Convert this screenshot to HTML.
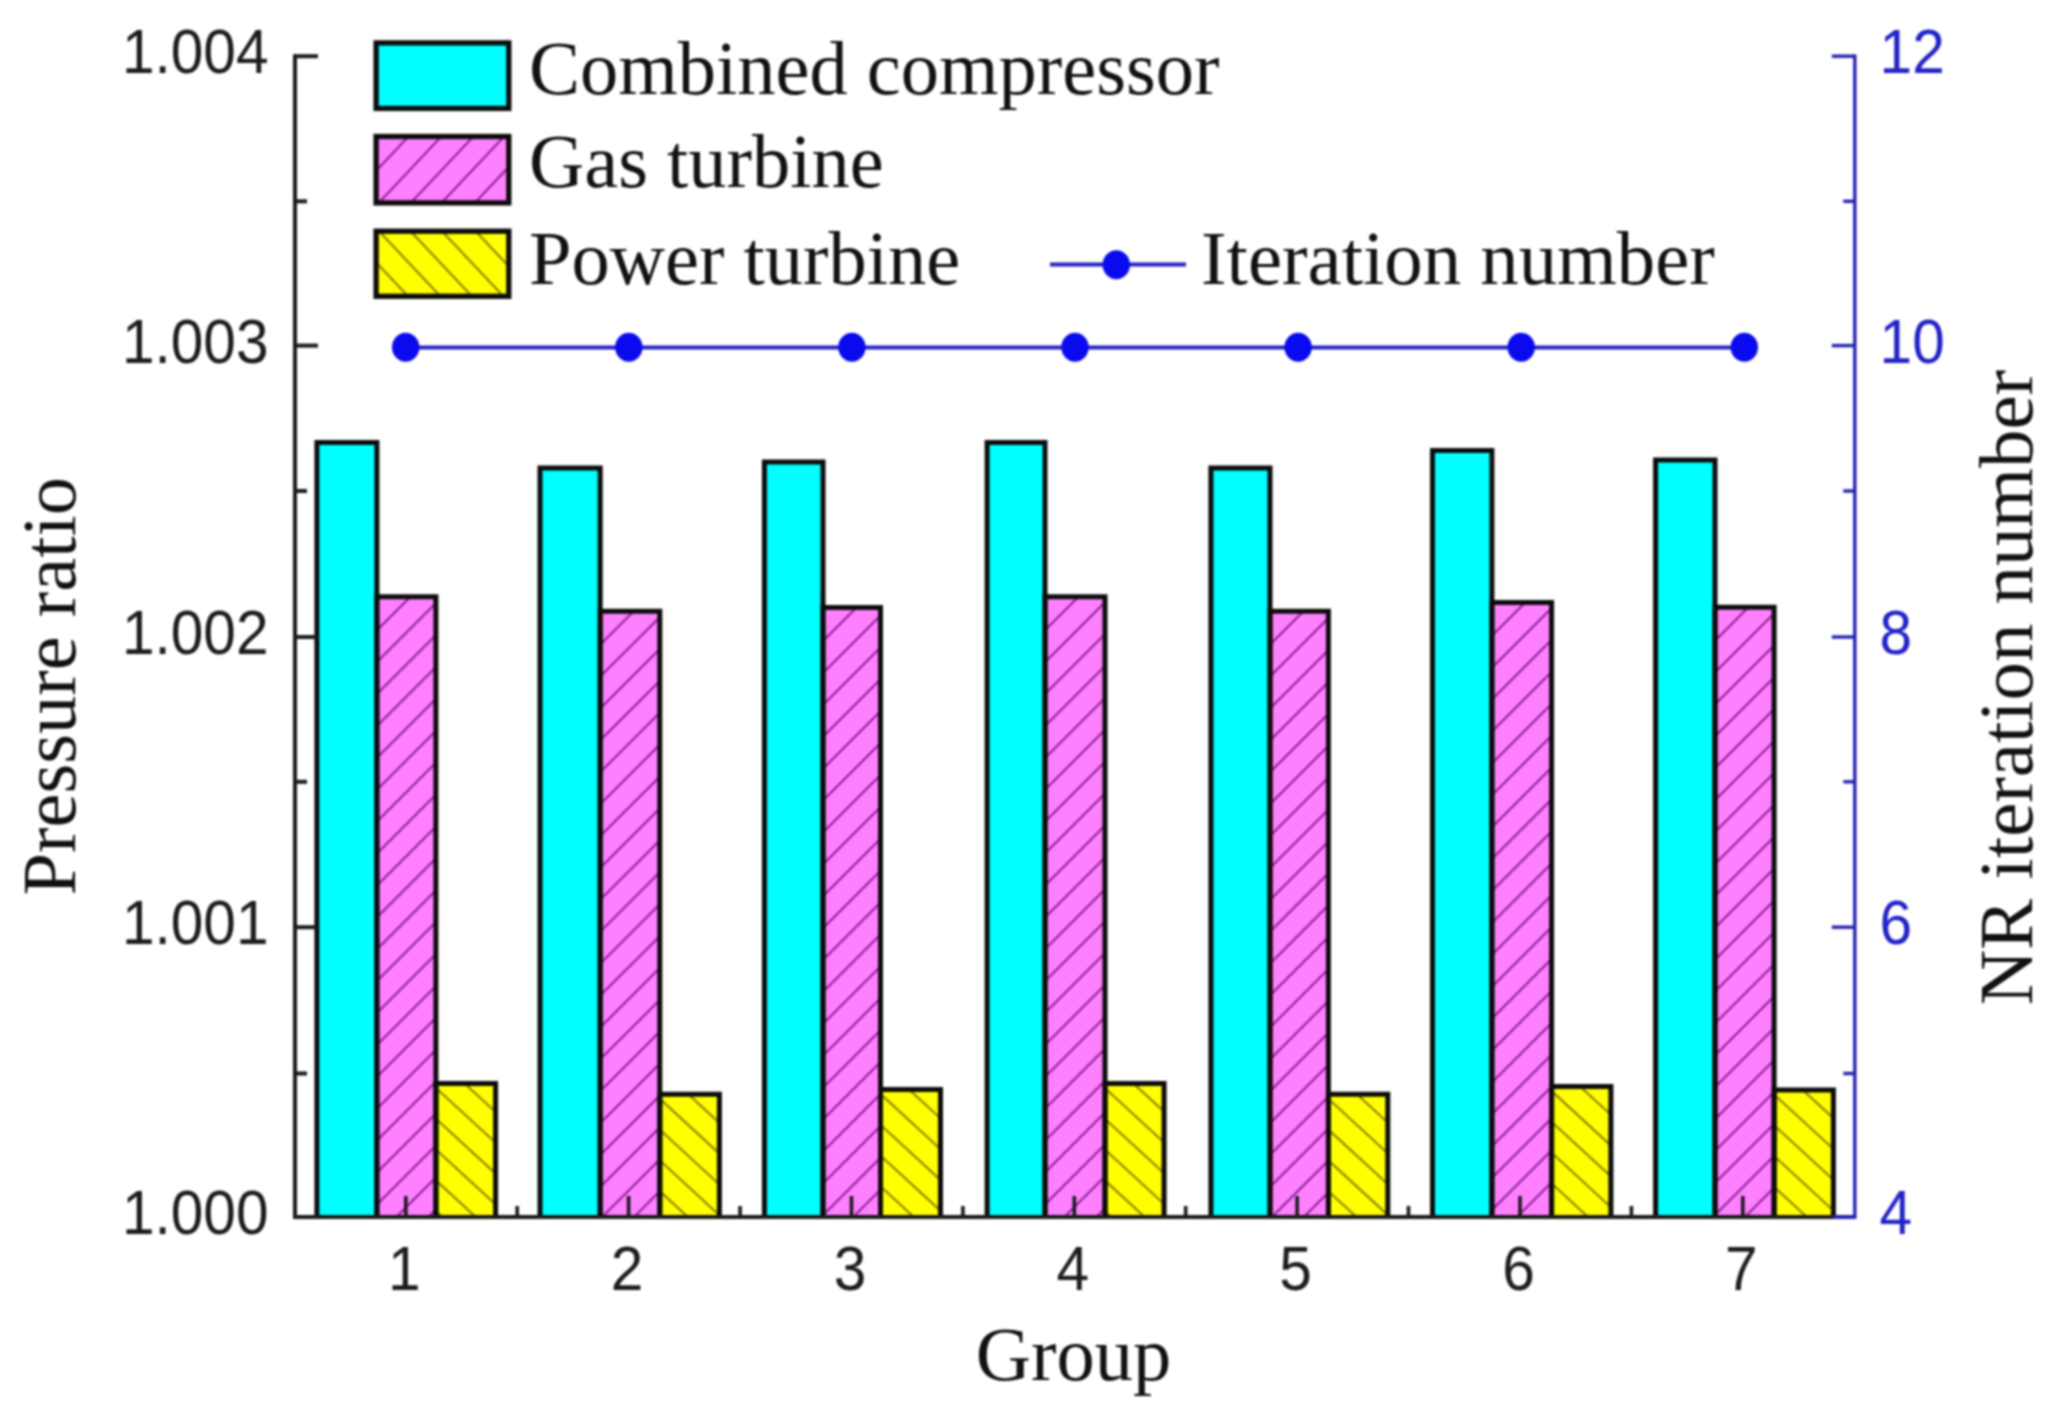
<!DOCTYPE html>
<html lang="en"><head><meta charset="utf-8"><title>Pressure ratio and NR iteration number by group</title>
<style>html,body{margin:0;padding:0;background:#fff}body{width:2060px;height:1410px;overflow:hidden}svg{display:block;filter:blur(0.9px)}
.ser{font-family:"Liberation Serif","Times New Roman",serif;fill:#111}
.san{font-family:"Liberation Sans",Arial,sans-serif;fill:#1c1c1c}
.blu{fill:#2222c8}
</style></head><body>
<svg width="2060" height="1410" viewBox="0 0 2060 1410">
<defs><clipPath id="c1"><rect x="376.9" y="596.8" width="59.0" height="620.2"/></clipPath><clipPath id="c2"><rect x="435.9" y="1083.4" width="59.7" height="133.6"/></clipPath><clipPath id="c3"><rect x="600.2" y="611.2" width="59.5" height="605.8"/></clipPath><clipPath id="c4"><rect x="659.8" y="1094.3" width="59.6" height="122.7"/></clipPath><clipPath id="c5"><rect x="823.0" y="607.6" width="57.5" height="609.4"/></clipPath><clipPath id="c6"><rect x="880.5" y="1089.5" width="60.0" height="127.5"/></clipPath><clipPath id="c7"><rect x="1045.0" y="596.8" width="60.0" height="620.2"/></clipPath><clipPath id="c8"><rect x="1105.0" y="1083.6" width="59.1" height="133.4"/></clipPath><clipPath id="c9"><rect x="1270.0" y="611.2" width="58.4" height="605.8"/></clipPath><clipPath id="c10"><rect x="1328.4" y="1094.3" width="59.3" height="122.7"/></clipPath><clipPath id="c11"><rect x="1491.9" y="602.4" width="59.7" height="614.6"/></clipPath><clipPath id="c12"><rect x="1551.6" y="1086.6" width="59.3" height="130.4"/></clipPath><clipPath id="c13"><rect x="1715.0" y="607.2" width="59.1" height="609.8"/></clipPath><clipPath id="c14"><rect x="1774.1" y="1090.0" width="59.3" height="127.0"/></clipPath><clipPath id="c15"><rect x="376.1" y="136.5" width="132.7" height="66.4"/></clipPath><clipPath id="c16"><rect x="376.1" y="231.2" width="132.7" height="65.1"/></clipPath></defs>
<rect width="2060" height="1410" fill="#fff"/>
<rect x="316.9" y="442.4" width="60.0" height="774.6" fill="#00ffff"/>
<rect x="376.9" y="596.8" width="59.0" height="620.2" fill="#ff80ff"/>
<path clip-path="url(#c1)" d="M372.9 506.7 L439.9 439.7 M372.9 538.6 L439.9 471.6 M372.9 570.5 L439.9 503.5 M372.9 602.4 L439.9 535.4 M372.9 634.3 L439.9 567.3 M372.9 666.2 L439.9 599.2 M372.9 698.1 L439.9 631.1 M372.9 730.0 L439.9 663.0 M372.9 761.9 L439.9 694.9 M372.9 793.8 L439.9 726.8 M372.9 825.7 L439.9 758.7 M372.9 857.6 L439.9 790.6 M372.9 889.5 L439.9 822.5 M372.9 921.4 L439.9 854.4 M372.9 953.3 L439.9 886.3 M372.9 985.2 L439.9 918.2 M372.9 1017.1 L439.9 950.1 M372.9 1049.0 L439.9 982.0 M372.9 1080.9 L439.9 1013.9 M372.9 1112.8 L439.9 1045.8 M372.9 1144.7 L439.9 1077.7 M372.9 1176.6 L439.9 1109.6 M372.9 1208.5 L439.9 1141.5 M372.9 1240.4 L439.9 1173.4 M372.9 1272.3 L439.9 1205.3" stroke="#8c2496" stroke-width="2.1" fill="none"/>
<rect x="435.9" y="1083.4" width="59.7" height="133.6" fill="#ffff00"/>
<path clip-path="url(#c2)" d="M431.9 961.0 L499.6 1023.3 M431.9 991.8 L499.6 1054.1 M431.9 1022.6 L499.6 1084.9 M431.9 1053.4 L499.6 1115.7 M431.9 1084.2 L499.6 1146.5 M431.9 1115.0 L499.6 1177.3 M431.9 1145.8 L499.6 1208.1 M431.9 1176.6 L499.6 1238.9 M431.9 1207.4 L499.6 1269.7" stroke="#8f8200" stroke-width="2.1" fill="none"/>
<path d="M316.9 1217.0 V442.4 H376.9 V1217.0" fill="none" stroke="#0c0c0c" stroke-width="5"/>
<path d="M376.9 1217.0 V596.8 H435.9 V1217.0" fill="none" stroke="#0c0c0c" stroke-width="5"/>
<path d="M435.9 1217.0 V1083.4 H495.6 V1217.0" fill="none" stroke="#0c0c0c" stroke-width="5"/>
<rect x="540.0" y="468.0" width="60.2" height="749.0" fill="#00ffff"/>
<rect x="600.2" y="611.2" width="59.5" height="605.8" fill="#ff80ff"/>
<path clip-path="url(#c3)" d="M596.2 521.1 L663.8 453.6 M596.2 553.0 L663.8 485.5 M596.2 584.9 L663.8 517.4 M596.2 616.8 L663.8 549.3 M596.2 648.7 L663.8 581.2 M596.2 680.6 L663.8 613.1 M596.2 712.5 L663.8 645.0 M596.2 744.4 L663.8 676.9 M596.2 776.3 L663.8 708.8 M596.2 808.2 L663.8 740.7 M596.2 840.1 L663.8 772.6 M596.2 872.0 L663.8 804.5 M596.2 903.9 L663.8 836.4 M596.2 935.8 L663.8 868.3 M596.2 967.7 L663.8 900.2 M596.2 999.6 L663.8 932.1 M596.2 1031.5 L663.8 964.0 M596.2 1063.4 L663.8 995.9 M596.2 1095.3 L663.8 1027.8 M596.2 1127.2 L663.8 1059.7 M596.2 1159.1 L663.8 1091.6 M596.2 1191.0 L663.8 1123.5 M596.2 1222.9 L663.8 1155.4 M596.2 1254.8 L663.8 1187.3 M596.2 1286.7 L663.8 1219.2" stroke="#8c2496" stroke-width="2.1" fill="none"/>
<rect x="659.8" y="1094.3" width="59.6" height="122.7" fill="#ffff00"/>
<path clip-path="url(#c4)" d="M655.8 971.9 L723.4 1034.2 M655.8 1002.7 L723.4 1065.0 M655.8 1033.5 L723.4 1095.8 M655.8 1064.3 L723.4 1126.6 M655.8 1095.1 L723.4 1157.4 M655.8 1125.9 L723.4 1188.2 M655.8 1156.7 L723.4 1219.0 M655.8 1187.5 L723.4 1249.8 M655.8 1218.3 L723.4 1280.6" stroke="#8f8200" stroke-width="2.1" fill="none"/>
<path d="M540.0 1217.0 V468.0 H600.2 V1217.0" fill="none" stroke="#0c0c0c" stroke-width="5"/>
<path d="M600.2 1217.0 V611.2 H659.8 V1217.0" fill="none" stroke="#0c0c0c" stroke-width="5"/>
<path d="M659.8 1217.0 V1094.3 H719.4 V1217.0" fill="none" stroke="#0c0c0c" stroke-width="5"/>
<rect x="764.4" y="462.0" width="58.6" height="755.0" fill="#00ffff"/>
<rect x="823.0" y="607.6" width="57.5" height="609.4" fill="#ff80ff"/>
<path clip-path="url(#c5)" d="M819.0 517.5 L884.5 452.0 M819.0 549.4 L884.5 483.9 M819.0 581.3 L884.5 515.8 M819.0 613.2 L884.5 547.7 M819.0 645.1 L884.5 579.6 M819.0 677.0 L884.5 611.5 M819.0 708.9 L884.5 643.4 M819.0 740.8 L884.5 675.3 M819.0 772.7 L884.5 707.2 M819.0 804.6 L884.5 739.1 M819.0 836.5 L884.5 771.0 M819.0 868.4 L884.5 802.9 M819.0 900.3 L884.5 834.8 M819.0 932.2 L884.5 866.7 M819.0 964.1 L884.5 898.6 M819.0 996.0 L884.5 930.5 M819.0 1027.9 L884.5 962.4 M819.0 1059.8 L884.5 994.3 M819.0 1091.7 L884.5 1026.2 M819.0 1123.6 L884.5 1058.1 M819.0 1155.5 L884.5 1090.0 M819.0 1187.4 L884.5 1121.9 M819.0 1219.3 L884.5 1153.8 M819.0 1251.2 L884.5 1185.7 M819.0 1283.1 L884.5 1217.6" stroke="#8c2496" stroke-width="2.1" fill="none"/>
<rect x="880.5" y="1089.5" width="60.0" height="127.5" fill="#ffff00"/>
<path clip-path="url(#c6)" d="M876.5 967.1 L944.5 1029.7 M876.5 997.9 L944.5 1060.5 M876.5 1028.7 L944.5 1091.3 M876.5 1059.5 L944.5 1122.1 M876.5 1090.3 L944.5 1152.9 M876.5 1121.1 L944.5 1183.7 M876.5 1151.9 L944.5 1214.5 M876.5 1182.7 L944.5 1245.3 M876.5 1213.5 L944.5 1276.1" stroke="#8f8200" stroke-width="2.1" fill="none"/>
<path d="M764.4 1217.0 V462.0 H823.0 V1217.0" fill="none" stroke="#0c0c0c" stroke-width="5"/>
<path d="M823.0 1217.0 V607.6 H880.5 V1217.0" fill="none" stroke="#0c0c0c" stroke-width="5"/>
<path d="M880.5 1217.0 V1089.5 H940.5 V1217.0" fill="none" stroke="#0c0c0c" stroke-width="5"/>
<rect x="987.1" y="442.4" width="57.9" height="774.6" fill="#00ffff"/>
<rect x="1045.0" y="596.8" width="60.0" height="620.2" fill="#ff80ff"/>
<path clip-path="url(#c7)" d="M1041.0 506.7 L1109.0 438.7 M1041.0 538.6 L1109.0 470.6 M1041.0 570.5 L1109.0 502.5 M1041.0 602.4 L1109.0 534.4 M1041.0 634.3 L1109.0 566.3 M1041.0 666.2 L1109.0 598.2 M1041.0 698.1 L1109.0 630.1 M1041.0 730.0 L1109.0 662.0 M1041.0 761.9 L1109.0 693.9 M1041.0 793.8 L1109.0 725.8 M1041.0 825.7 L1109.0 757.7 M1041.0 857.6 L1109.0 789.6 M1041.0 889.5 L1109.0 821.5 M1041.0 921.4 L1109.0 853.4 M1041.0 953.3 L1109.0 885.3 M1041.0 985.2 L1109.0 917.2 M1041.0 1017.1 L1109.0 949.1 M1041.0 1049.0 L1109.0 981.0 M1041.0 1080.9 L1109.0 1012.9 M1041.0 1112.8 L1109.0 1044.8 M1041.0 1144.7 L1109.0 1076.7 M1041.0 1176.6 L1109.0 1108.6 M1041.0 1208.5 L1109.0 1140.5 M1041.0 1240.4 L1109.0 1172.4 M1041.0 1272.3 L1109.0 1204.3" stroke="#8c2496" stroke-width="2.1" fill="none"/>
<rect x="1105.0" y="1083.6" width="59.1" height="133.4" fill="#ffff00"/>
<path clip-path="url(#c8)" d="M1101.0 961.2 L1168.1 1023.0 M1101.0 992.0 L1168.1 1053.8 M1101.0 1022.8 L1168.1 1084.6 M1101.0 1053.6 L1168.1 1115.4 M1101.0 1084.4 L1168.1 1146.2 M1101.0 1115.2 L1168.1 1177.0 M1101.0 1146.0 L1168.1 1207.8 M1101.0 1176.8 L1168.1 1238.6 M1101.0 1207.6 L1168.1 1269.4" stroke="#8f8200" stroke-width="2.1" fill="none"/>
<path d="M987.1 1217.0 V442.4 H1045.0 V1217.0" fill="none" stroke="#0c0c0c" stroke-width="5"/>
<path d="M1045.0 1217.0 V596.8 H1105.0 V1217.0" fill="none" stroke="#0c0c0c" stroke-width="5"/>
<path d="M1105.0 1217.0 V1083.6 H1164.1 V1217.0" fill="none" stroke="#0c0c0c" stroke-width="5"/>
<rect x="1210.9" y="468.0" width="59.1" height="749.0" fill="#00ffff"/>
<rect x="1270.0" y="611.2" width="58.4" height="605.8" fill="#ff80ff"/>
<path clip-path="url(#c9)" d="M1266.0 521.1 L1332.4 454.7 M1266.0 553.0 L1332.4 486.6 M1266.0 584.9 L1332.4 518.5 M1266.0 616.8 L1332.4 550.4 M1266.0 648.7 L1332.4 582.3 M1266.0 680.6 L1332.4 614.2 M1266.0 712.5 L1332.4 646.1 M1266.0 744.4 L1332.4 678.0 M1266.0 776.3 L1332.4 709.9 M1266.0 808.2 L1332.4 741.8 M1266.0 840.1 L1332.4 773.7 M1266.0 872.0 L1332.4 805.6 M1266.0 903.9 L1332.4 837.5 M1266.0 935.8 L1332.4 869.4 M1266.0 967.7 L1332.4 901.3 M1266.0 999.6 L1332.4 933.2 M1266.0 1031.5 L1332.4 965.1 M1266.0 1063.4 L1332.4 997.0 M1266.0 1095.3 L1332.4 1028.9 M1266.0 1127.2 L1332.4 1060.8 M1266.0 1159.1 L1332.4 1092.7 M1266.0 1191.0 L1332.4 1124.6 M1266.0 1222.9 L1332.4 1156.5 M1266.0 1254.8 L1332.4 1188.4 M1266.0 1286.7 L1332.4 1220.3" stroke="#8c2496" stroke-width="2.1" fill="none"/>
<rect x="1328.4" y="1094.3" width="59.3" height="122.7" fill="#ffff00"/>
<path clip-path="url(#c10)" d="M1324.4 971.9 L1391.8 1033.9 M1324.4 1002.7 L1391.8 1064.7 M1324.4 1033.5 L1391.8 1095.5 M1324.4 1064.3 L1391.8 1126.3 M1324.4 1095.1 L1391.8 1157.1 M1324.4 1125.9 L1391.8 1187.9 M1324.4 1156.7 L1391.8 1218.7 M1324.4 1187.5 L1391.8 1249.5 M1324.4 1218.3 L1391.8 1280.3" stroke="#8f8200" stroke-width="2.1" fill="none"/>
<path d="M1210.9 1217.0 V468.0 H1270.0 V1217.0" fill="none" stroke="#0c0c0c" stroke-width="5"/>
<path d="M1270.0 1217.0 V611.2 H1328.4 V1217.0" fill="none" stroke="#0c0c0c" stroke-width="5"/>
<path d="M1328.4 1217.0 V1094.3 H1387.8 V1217.0" fill="none" stroke="#0c0c0c" stroke-width="5"/>
<rect x="1432.5" y="450.4" width="59.4" height="766.6" fill="#00ffff"/>
<rect x="1491.9" y="602.4" width="59.7" height="614.6" fill="#ff80ff"/>
<path clip-path="url(#c11)" d="M1487.9 512.3 L1555.6 444.6 M1487.9 544.2 L1555.6 476.5 M1487.9 576.1 L1555.6 508.4 M1487.9 608.0 L1555.6 540.3 M1487.9 639.9 L1555.6 572.2 M1487.9 671.8 L1555.6 604.1 M1487.9 703.7 L1555.6 636.0 M1487.9 735.6 L1555.6 667.9 M1487.9 767.5 L1555.6 699.8 M1487.9 799.4 L1555.6 731.7 M1487.9 831.3 L1555.6 763.6 M1487.9 863.2 L1555.6 795.5 M1487.9 895.1 L1555.6 827.4 M1487.9 927.0 L1555.6 859.3 M1487.9 958.9 L1555.6 891.2 M1487.9 990.8 L1555.6 923.1 M1487.9 1022.7 L1555.6 955.0 M1487.9 1054.6 L1555.6 986.9 M1487.9 1086.5 L1555.6 1018.8 M1487.9 1118.4 L1555.6 1050.7 M1487.9 1150.3 L1555.6 1082.6 M1487.9 1182.2 L1555.6 1114.5 M1487.9 1214.1 L1555.6 1146.4 M1487.9 1246.0 L1555.6 1178.3 M1487.9 1277.9 L1555.6 1210.2" stroke="#8c2496" stroke-width="2.1" fill="none"/>
<rect x="1551.6" y="1086.6" width="59.3" height="130.4" fill="#ffff00"/>
<path clip-path="url(#c12)" d="M1547.6 964.2 L1614.9 1026.1 M1547.6 995.0 L1614.9 1056.9 M1547.6 1025.8 L1614.9 1087.7 M1547.6 1056.6 L1614.9 1118.5 M1547.6 1087.4 L1614.9 1149.3 M1547.6 1118.2 L1614.9 1180.1 M1547.6 1149.0 L1614.9 1210.9 M1547.6 1179.8 L1614.9 1241.7 M1547.6 1210.6 L1614.9 1272.5" stroke="#8f8200" stroke-width="2.1" fill="none"/>
<path d="M1432.5 1217.0 V450.4 H1491.9 V1217.0" fill="none" stroke="#0c0c0c" stroke-width="5"/>
<path d="M1491.9 1217.0 V602.4 H1551.6 V1217.0" fill="none" stroke="#0c0c0c" stroke-width="5"/>
<path d="M1551.6 1217.0 V1086.6 H1610.9 V1217.0" fill="none" stroke="#0c0c0c" stroke-width="5"/>
<rect x="1655.6" y="460.0" width="59.4" height="757.0" fill="#00ffff"/>
<rect x="1715.0" y="607.2" width="59.1" height="609.8" fill="#ff80ff"/>
<path clip-path="url(#c13)" d="M1711.0 517.1 L1778.1 450.0 M1711.0 549.0 L1778.1 481.9 M1711.0 580.9 L1778.1 513.8 M1711.0 612.8 L1778.1 545.7 M1711.0 644.7 L1778.1 577.6 M1711.0 676.6 L1778.1 609.5 M1711.0 708.5 L1778.1 641.4 M1711.0 740.4 L1778.1 673.3 M1711.0 772.3 L1778.1 705.2 M1711.0 804.2 L1778.1 737.1 M1711.0 836.1 L1778.1 769.0 M1711.0 868.0 L1778.1 800.9 M1711.0 899.9 L1778.1 832.8 M1711.0 931.8 L1778.1 864.7 M1711.0 963.7 L1778.1 896.6 M1711.0 995.6 L1778.1 928.5 M1711.0 1027.5 L1778.1 960.4 M1711.0 1059.4 L1778.1 992.3 M1711.0 1091.3 L1778.1 1024.2 M1711.0 1123.2 L1778.1 1056.1 M1711.0 1155.1 L1778.1 1088.0 M1711.0 1187.0 L1778.1 1119.9 M1711.0 1218.9 L1778.1 1151.8 M1711.0 1250.8 L1778.1 1183.7 M1711.0 1282.7 L1778.1 1215.6" stroke="#8c2496" stroke-width="2.1" fill="none"/>
<rect x="1774.1" y="1090.0" width="59.3" height="127.0" fill="#ffff00"/>
<path clip-path="url(#c14)" d="M1770.1 967.6 L1837.4 1029.5 M1770.1 998.4 L1837.4 1060.3 M1770.1 1029.2 L1837.4 1091.1 M1770.1 1060.0 L1837.4 1121.9 M1770.1 1090.8 L1837.4 1152.7 M1770.1 1121.6 L1837.4 1183.5 M1770.1 1152.4 L1837.4 1214.3 M1770.1 1183.2 L1837.4 1245.1 M1770.1 1214.0 L1837.4 1275.9" stroke="#8f8200" stroke-width="2.1" fill="none"/>
<path d="M1655.6 1217.0 V460.0 H1715.0 V1217.0" fill="none" stroke="#0c0c0c" stroke-width="5"/>
<path d="M1715.0 1217.0 V607.2 H1774.1 V1217.0" fill="none" stroke="#0c0c0c" stroke-width="5"/>
<path d="M1774.1 1217.0 V1090.0 H1833.4 V1217.0" fill="none" stroke="#0c0c0c" stroke-width="5"/>
<g stroke="#1a1a1a" stroke-width="4" fill="none">
<path d="M295.0 54.3 V1217.0 H1834.8"/>
<path d="M295.0 56.2 H318.0"/>
<path d="M295.0 345.6 H318.0"/>
<path d="M295.0 637.0 H318.0"/>
<path d="M295.0 927.2 H318.0"/>
<path d="M295.0 201.3 H307.0"/>
<path d="M295.0 491.0 H307.0"/>
<path d="M295.0 781.8 H307.0"/>
<path d="M295.0 1073.5 H307.0"/>
</g>
<g stroke="#1a1a1a" stroke-width="3.6" fill="none">
<path d="M405.8 1217.0 V1196.0"/>
<path d="M517.2 1217.0 V1206.0"/>
<path d="M628.6 1217.0 V1196.0"/>
<path d="M740.1 1217.0 V1206.0"/>
<path d="M851.5 1217.0 V1196.0"/>
<path d="M962.9 1217.0 V1206.0"/>
<path d="M1074.3 1217.0 V1196.0"/>
<path d="M1185.7 1217.0 V1206.0"/>
<path d="M1297.1 1217.0 V1196.0"/>
<path d="M1408.5 1217.0 V1206.0"/>
<path d="M1520.0 1217.0 V1196.0"/>
<path d="M1631.4 1217.0 V1206.0"/>
<path d="M1742.8 1217.0 V1196.0"/>
</g>
<g stroke="#2323b2" stroke-width="3.4" fill="none">
<path d="M1854.8 54.6 V1219.0"/>
<path d="M1854.8 56.2 H1831.8"/>
<path d="M1854.8 345.6 H1831.8"/>
<path d="M1854.8 637.0 H1831.8"/>
<path d="M1854.8 927.2 H1831.8"/>
<path d="M1854.8 1217.0 H1832.8" stroke-width="4"/>
<path d="M1854.8 201.3 H1843.3"/>
<path d="M1854.8 491.0 H1843.3"/>
<path d="M1854.8 781.8 H1843.3"/>
<path d="M1854.8 1073.5 H1843.3"/>
</g>
<path d="M405.7 347.5 H1744.3" stroke="#2222c4" stroke-width="4" fill="none"/>
<ellipse cx="405.7" cy="347.3" rx="13.7" ry="14.5" fill="#0a0aee"/>
<ellipse cx="628.8" cy="347.3" rx="13.7" ry="14.5" fill="#0a0aee"/>
<ellipse cx="851.9" cy="347.3" rx="13.7" ry="14.5" fill="#0a0aee"/>
<ellipse cx="1075.0" cy="347.3" rx="13.7" ry="14.5" fill="#0a0aee"/>
<ellipse cx="1298.1" cy="347.3" rx="13.7" ry="14.5" fill="#0a0aee"/>
<ellipse cx="1521.2" cy="347.3" rx="13.7" ry="14.5" fill="#0a0aee"/>
<ellipse cx="1744.3" cy="347.3" rx="13.7" ry="14.5" fill="#0a0aee"/>
<rect x="376.1" y="42.9" width="132.7" height="65.5" fill="#00ffff"/>
<rect x="376.1" y="42.9" width="132.7" height="65.5" fill="none" stroke="#0c0c0c" stroke-width="5.3"/>
<rect x="376.1" y="136.5" width="132.7" height="66.4" fill="#ff80ff"/>
<path clip-path="url(#c15)" d="M372.1 175.1 L512.8 25.9 M372.1 209.9 L512.8 60.7 M372.1 243.8 L512.8 94.7 M372.1 276.4 L512.8 127.3 M372.1 311.8 L512.8 162.6" stroke="#8c2496" stroke-width="2.1" fill="none"/>
<rect x="376.1" y="136.5" width="132.7" height="66.4" fill="none" stroke="#0c0c0c" stroke-width="5.3"/>
<rect x="376.1" y="231.2" width="132.7" height="65.1" fill="#ffff00"/>
<path clip-path="url(#c16)" d="M372.1 258.2 L512.8 407.3 M372.1 223.9 L512.8 373.0 M372.1 190.5 L512.8 339.6 M372.1 157.1 L512.8 306.3 M372.1 121.5 L512.8 270.6" stroke="#8f8200" stroke-width="2.1" fill="none"/>
<rect x="376.1" y="231.2" width="132.7" height="65.1" fill="none" stroke="#0c0c0c" stroke-width="5.3"/>
<path d="M1050 264.6 H1186" stroke="#2222c4" stroke-width="4" fill="none"/>
<ellipse cx="1116.3" cy="264.8" rx="13.7" ry="14.5" fill="#0a0aee"/>
<g class="ser" font-size="76.5">
<text transform="translate(529 93.5) scale(1 1)" text-anchor="start">Combined compressor</text>
<text transform="translate(529 186.5) scale(1 1)" text-anchor="start">Gas turbine</text>
<text transform="translate(529 283.5) scale(1 1)" text-anchor="start">Power turbine</text>
<text transform="translate(1201 283.5) scale(1.004 1)" text-anchor="start">Iteration number</text>
<text transform="translate(1073.5 1379.5) scale(1 1)" text-anchor="middle">Group</text>
<text transform="translate(74.5 686.2) rotate(-90) scale(1 1)" text-anchor="middle">Pressure ratio</text>
<text transform="translate(2032.4 687.6) rotate(-90) scale(1.004 1)" text-anchor="middle">NR iteration number</text>
</g>
<g class="san" font-size="62">
<text transform="translate(268.5 73.4) scale(0.945 1)" text-anchor="end">1.004</text>
<text transform="translate(268.5 362.8) scale(0.945 1)" text-anchor="end">1.003</text>
<text transform="translate(268.5 654.2) scale(0.945 1)" text-anchor="end">1.002</text>
<text transform="translate(268.5 944.4) scale(0.945 1)" text-anchor="end">1.001</text>
<text transform="translate(268.5 1234) scale(0.945 1)" text-anchor="end">1.000</text>
<text transform="translate(404.314 1289.8) scale(0.945 1)" text-anchor="middle">1</text>
<text transform="translate(627.143 1289.8) scale(0.945 1)" text-anchor="middle">2</text>
<text transform="translate(849.971 1289.8) scale(0.945 1)" text-anchor="middle">3</text>
<text transform="translate(1072.8 1289.8) scale(0.945 1)" text-anchor="middle">4</text>
<text transform="translate(1295.63 1289.8) scale(0.945 1)" text-anchor="middle">5</text>
<text transform="translate(1518.46 1289.8) scale(0.945 1)" text-anchor="middle">6</text>
<text transform="translate(1741.29 1289.8) scale(0.945 1)" text-anchor="middle">7</text>
</g>
<g class="san blu" font-size="62">
<text transform="translate(1879.6 73.4) scale(0.945 1)" text-anchor="start">12</text>
<text transform="translate(1879.6 362.8) scale(0.945 1)" text-anchor="start">10</text>
<text transform="translate(1879.6 654.2) scale(0.945 1)" text-anchor="start">8</text>
<text transform="translate(1879.6 944.4) scale(0.945 1)" text-anchor="start">6</text>
<text transform="translate(1879.6 1234) scale(0.945 1)" text-anchor="start">4</text>
</g>
</svg></body></html>
